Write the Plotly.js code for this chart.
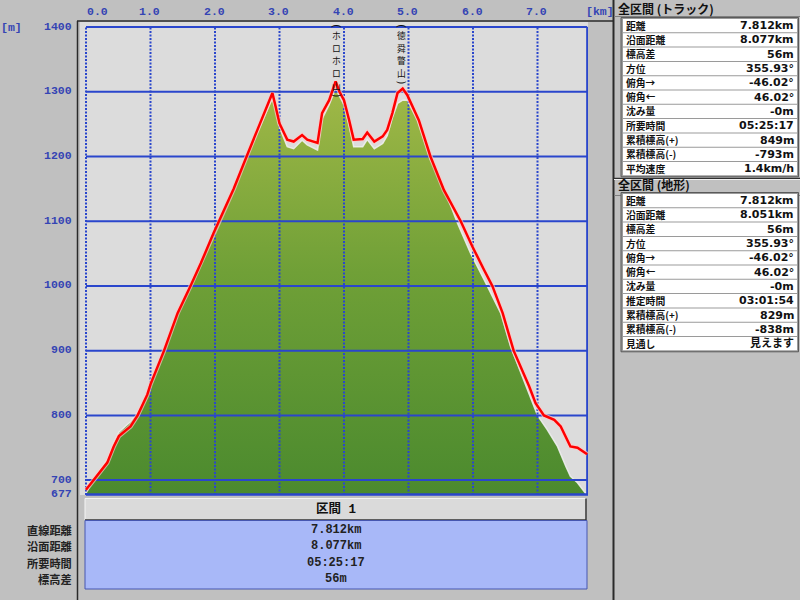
<!DOCTYPE html>
<html><head><meta charset="utf-8">
<script src="https://cdn.plot.ly/plotly-3.0.1.min.js"></script>
<style>html,body{margin:0;padding:0;background:#c0c0c0;overflow:hidden;} #chart{width:800px;height:600px;}</style>
</head><body><div id="chart"></div>
<script>
// ---------------- data ----------------
const trackKm = [0, 0.12, 0.33, 0.43, 0.51, 0.69, 0.80, 0.95, 1.0, 1.21, 1.42, 1.62, 1.78, 1.98, 2.06, 2.29, 2.49, 2.66, 2.79, 2.89, 2.94, 3.0, 3.12, 3.22, 3.35, 3.43, 3.59, 3.66, 3.77, 3.83, 3.87, 3.93, 4.0, 4.08, 4.15, 4.29, 4.36, 4.47, 4.6, 4.67, 4.75, 4.83, 4.91, 4.98, 5.16, 5.34, 5.55, 5.81, 5.99, 6.17, 6.30, 6.46, 6.63, 6.87, 6.97, 7.10, 7.26, 7.36, 7.51, 7.62, 7.77];
const trackElev = [685, 700, 727, 752, 768, 783, 800, 832, 848, 900, 958, 1000, 1035, 1082, 1100, 1150, 1200, 1241, 1272, 1298, 1277, 1251, 1226, 1223, 1233, 1226, 1221, 1267, 1287, 1305, 1316, 1300, 1287, 1256, 1226, 1227, 1237, 1223, 1231, 1241, 1267, 1298, 1305, 1295, 1256, 1200, 1148, 1100, 1061, 1025, 1000, 958, 900, 845, 819, 800, 793, 783, 752, 750, 740];

const terrainKm = [0, 0.12, 0.33, 0.43, 0.51, 0.69, 0.80, 0.95, 1.0, 1.21, 1.42, 1.62, 1.78, 1.98, 2.06, 2.29, 2.49, 2.66, 2.79, 2.89, 2.94, 3.0, 3.12, 3.22, 3.35, 3.43, 3.59, 3.66, 3.77, 3.87, 3.93, 4.0, 4.08, 4.15, 4.29, 4.36, 4.47, 4.6, 4.67, 4.75, 4.83, 4.91, 4.98, 5.14, 5.34, 5.5, 5.76, 5.96, 6.17, 6.27, 6.43, 6.58, 6.79, 6.95, 7.0, 7.15, 7.31, 7.44, 7.51, 7.62, 7.75];
const terrainElev = [680, 702, 732, 758, 774, 790, 805, 832, 848, 900, 958, 1000, 1035, 1082, 1100, 1150, 1198, 1238, 1268, 1290, 1272, 1245, 1215, 1212, 1225, 1218, 1210, 1258, 1280, 1305, 1293, 1280, 1248, 1215, 1215, 1226, 1212, 1220, 1232, 1260, 1282, 1287, 1287, 1256, 1195, 1164, 1097, 1051, 1010, 989, 958, 907, 855, 814, 800, 778, 752, 721, 706, 696, 679];

const xTicks = [0, 1, 2, 3, 4, 5, 6, 7];
const xTickLabels = ['0.0', '1.0', '2.0', '3.0', '4.0', '5.0', '6.0', '7.0'];
const yTicks = [1400, 1300, 1200, 1100, 1000, 900, 800, 700];
const yTickLabels = ['1400', '1300', '1200', '1100', '1000', '900', '800', '700'];
const yBase = 677;
const yBaseLabel = '677';
const xEnd = 7.77;
const xUnit = '[km]';
const yUnit = '[m]';

const peakNames = ['ホロホロ山', '徳舜瞥山'];
const peakKm = [3.88, 4.89];

const trackTitle = '全区間 (トラック)';
const trackLabels = ['距離', '沿面距離', '標高差', '方位', '俯角→', '俯角←', '沈み量', '所要時間', '累積標高(+)', '累積標高(-)', '平均速度'];
const trackValues = ['7.812km', '8.077km', '56m', '355.93°', '-46.02°', '46.02°', '-0m', '05:25:17', '849m', '-793m', '1.4km/h'];

const terrainTitle = '全区間 (地形)';
const terrainLabels = ['距離', '沿面距離', '標高差', '方位', '俯角→', '俯角←', '沈み量', '推定時間', '累積標高(+)', '累積標高(-)', '見通し'];
const terrainValues = ['7.812km', '8.051km', '56m', '355.93°', '-46.02°', '46.02°', '-0m', '03:01:54', '829m', '-838m', '見えます'];

const sectionTitle = '区間 1';
const sectionLabels = ['直線距離', '沿面距離', '所要時間', '標高差'];
const sectionValues = ['7.812km', '8.077km', '05:25:17', '56m'];

// ---------------- layout helpers ----------------
const L = 80, R = 588, T = 22, B = 495;
const px = x => (x - L) / (R - L);
const py = y => (B - y) / (B - T);
const CJK = "'Noto Sans CJK JP', sans-serif";
const MONO = "'Liberation Mono', 'Noto Sans CJK JP', monospace";
const VALF = "'DejaVu Sans', 'Noto Sans CJK JP', sans-serif";
const CJK_BOX = 1.45;           // line-box height of Noto Sans CJK, in em
const BLUE = '#2a46cc';
const LBLUE = '#3444b4';

const traces = [];
// terrain fill
traces.push({
  x: terrainKm, y: terrainElev, type: 'scatter', mode: 'lines',
  fill: 'tozeroy',
  line: {color: 'rgba(238,238,238,0.9)', width: 1.5},
  fillgradient: {type: 'vertical', start: yBase, stop: 1305,
    colorscale: [[0, '#4b8a2e'], [0.55, '#70a037'], [1, '#a0b847']]},
  hoverinfo: 'skip', showlegend: false
});
// gridlines (drawn above fill)
const hx = [], hy = [];
yTicks.forEach(t => { hx.push(0, xEnd, null); hy.push(t, t, null); });
traces.push({x: hx, y: hy, type: 'scatter', mode: 'lines',
  line: {color: BLUE, width: 2}, hoverinfo: 'skip', showlegend: false});
const vx = [], vy = [];
xTicks.forEach(t => { vx.push(t, t, null); vy.push(yBase, yTicks[0], null); });
traces.push({x: vx, y: vy, type: 'scatter', mode: 'lines',
  line: {color: BLUE, width: 2, dash: '2px,1.5px'}, hoverinfo: 'skip', showlegend: false});
// right border of profile
traces.push({x: [xEnd, xEnd], y: [yBase, yTicks[0]], type: 'scatter', mode: 'lines',
  line: {color: BLUE, width: 2}, hoverinfo: 'skip', showlegend: false});
// track
traces.push({x: trackKm, y: trackElev, type: 'scatter', mode: 'lines',
  line: {color: 'rgba(255,200,200,0.7)', width: 4.5}, hoverinfo: 'skip', showlegend: false});
traces.push({x: trackKm, y: trackElev, type: 'scatter', mode: 'lines',
  line: {color: '#ff0000', width: 2.5}, hoverinfo: 'skip', showlegend: false});

const shapes = [];
const rect = (x0, y0, x1, y1, fill, line, lw, layer) => shapes.push({
  type: 'rect', xref: 'paper', yref: 'paper', x0: px(x0), x1: px(x1), y0: py(y1), y1: py(y0),
  fillcolor: fill, line: {color: line || 'rgba(0,0,0,0)', width: lw || 0}, layer: layer || 'above'});
const hline = (x0, x1, y, color, w) => shapes.push({type: 'line', xref: 'paper', yref: 'paper',
  x0: px(x0), x1: px(x1), y0: py(y), y1: py(y), line: {color, width: w}, layer: 'above'});
const vline = (x, y0, y1, color, w) => shapes.push({type: 'line', xref: 'paper', yref: 'paper',
  x0: px(x), x1: px(x), y0: py(y0), y1: py(y1), line: {color, width: w}, layer: 'above'});

// frame lines
vline(77.5, 21, 600, '#2a2a2a', 1.5);
hline(77, 614, 21, '#2a2a2a', 1.5);
vline(613.5, 0, 600, '#2a2a2a', 2);
hline(86, 588, 494.5, BLUE, 2.5);

// bottom section boxes
rect(85, 498.5, 586, 520, '#dadada', '#f4f4f4', 1);
hline(85, 586, 520, '#303030', 1.5);
vline(586, 498.5, 520, '#303030', 1.5);
rect(85, 520.5, 587, 589, '#a8b8f8', '#4656b0', 1);

// right panel
hline(614, 800, 16.5, '#808080', 1);
hline(614, 800, 178.5, '#303030', 1.5);
hline(614, 800, 179.5, '#f0f0f0', 1);
hline(614, 800, 195.5, '#808080', 1);
const PITCH = 14.3;
function table(top, n) {
  rect(621, top - 1, 798.5, top + n * PITCH + 1, '#9a9a9a', '#5a5a5a', 1);
  for (let i = 0; i < n; i++) {
    rect(623, top + i * PITCH + 0.5, 797, top + (i + 1) * PITCH - 0.5, '#ffffff');
  }
}
const top1 = 18.5, top2 = 193.5;
table(top1, trackLabels.length);
table(top2, terrainLabels.length);

// ---------------- annotations ----------------
const annotations = [];
const ann = (text, x, y, xanchor, font, extra) => annotations.push(Object.assign({
  text, xref: 'paper', yref: 'paper', x: px(x), y: py(y), xanchor, yanchor: 'middle',
  showarrow: false, font, borderpad: 0}, extra || {}));

const tickFont = {family: MONO, size: 11.5, color: LBLUE, weight: 'bold'};
// top x tick labels
xTicks.forEach((t, i) => annotations.push({
  text: xTickLabels[i], xref: 'x', yref: 'paper', x: t, y: py(12),
  xanchor: i === 0 ? 'left' : 'center', yanchor: 'middle', xshift: i === 0 ? 0 : -1,
  showarrow: false, font: tickFont, borderpad: 0}));
ann(xUnit, 600, 12, 'center', tickFont);
// y tick labels
yTicks.forEach((t, i) => annotations.push({
  text: yTickLabels[i], xref: 'paper', yref: 'y', x: px(73), y: t,
  xanchor: 'right', yanchor: 'middle', yshift: 1, showarrow: false, font: tickFont, borderpad: 0}));
annotations.push({text: yBaseLabel, xref: 'paper', yref: 'y', x: px(73), y: yBase,
  xanchor: 'right', yanchor: 'middle', yshift: 2, showarrow: false, font: tickFont, borderpad: 0});
ann(yUnit, 0, 27, 'left', tickFont);

// vertical peak labels: upright characters stacked one per annotation, rotated parentheses
const PEAK_SIZE = 8.8;
const PEAK_PITCH = PEAK_SIZE * CJK_BOX + 0.1;
peakNames.forEach((name, k) => {
  const parenFont = {family: "'DejaVu Sans', sans-serif", size: 11, color: '#111111'};
  annotations.push({text: '(', xref: 'x', yref: 'paper', x: peakKm[k], y: py(26.3),
    xanchor: 'center', yanchor: 'middle', textangle: 90, showarrow: false, borderpad: 0, font: parenFont});
  let y = 28.8;
  Array.from(name).forEach(ch => {
    annotations.push({text: ch, xref: 'x', yref: 'paper', x: peakKm[k], y: py(y + PEAK_PITCH / 2),
      xanchor: 'center', yanchor: 'middle', showarrow: false, borderpad: 0,
      font: {family: CJK, size: PEAK_SIZE, color: '#111111'}});
    y += PEAK_PITCH;
  });
  annotations.push({text: ')', xref: 'x', yref: 'paper', x: peakKm[k], y: py(y + 2.3),
    xanchor: 'center', yanchor: 'middle', textangle: 90, showarrow: false, borderpad: 0, font: parenFont});
});

// right panel texts (one annotation per row)
const headFont = {family: CJK, size: 12, color: '#111111', weight: 'bold'};
const labFont = {family: CJK, size: PITCH / CJK_BOX - 0.05, color: '#111111', weight: 'bold'};
const valFont = {family: VALF, size: 11, color: '#111111', weight: 'bold'};
ann(trackTitle, 617, 8, 'left', headFont);
ann(terrainTitle, 617, 184.5, 'left', headFont);
function column(labels, values, top) {
  labels.forEach((l, i) => {
    const yc = top + (i + 0.5) * PITCH;
    ann(l, 625, yc, 'left', labFont);
    ann(values[i], 795, yc, 'right', valFont);
  });
}
column(trackLabels, trackValues, top1);
column(terrainLabels, terrainValues, top2);

// bottom section texts
ann(sectionTitle, 336, 510, 'center', {family: MONO, size: 12.5, color: '#111111', weight: 'bold'});
const SEC_TOP = 522, SEC_PITCH = 16.3;
const secLabFont = {family: CJK, size: SEC_PITCH / CJK_BOX - 0.05, color: '#222222', weight: 'bold'};
const secValFont = {family: MONO, size: 12, color: '#222222', weight: 'bold'};
sectionLabels.forEach((l, i) => {
  const yc = SEC_TOP + (i + 0.5) * SEC_PITCH;
  ann(l, 73, yc, 'right', secLabFont);
  ann(sectionValues[i], 336, yc, 'center', secValFont);
});

const layout = {
  width: 800, height: 600,
  margin: {l: L, r: 800 - R, t: T, b: 600 - B, pad: 0},
  paper_bgcolor: '#c0c0c0', plot_bgcolor: '#dcdcdc',
  xaxis: {range: [-6 / 64.5, (R - 86) / 64.5], showgrid: false, zeroline: false, showticklabels: false, ticks: '', showline: false, fixedrange: true},
  yaxis: {range: [yBase, yTicks[0] + 5 / 0.647], showgrid: false, zeroline: false, showticklabels: false, ticks: '', showline: false, fixedrange: true},
  shapes, annotations, showlegend: false
};
Plotly.newPlot('chart', traces, layout, {staticPlot: true, displayModeBar: false});
</script></body></html>
